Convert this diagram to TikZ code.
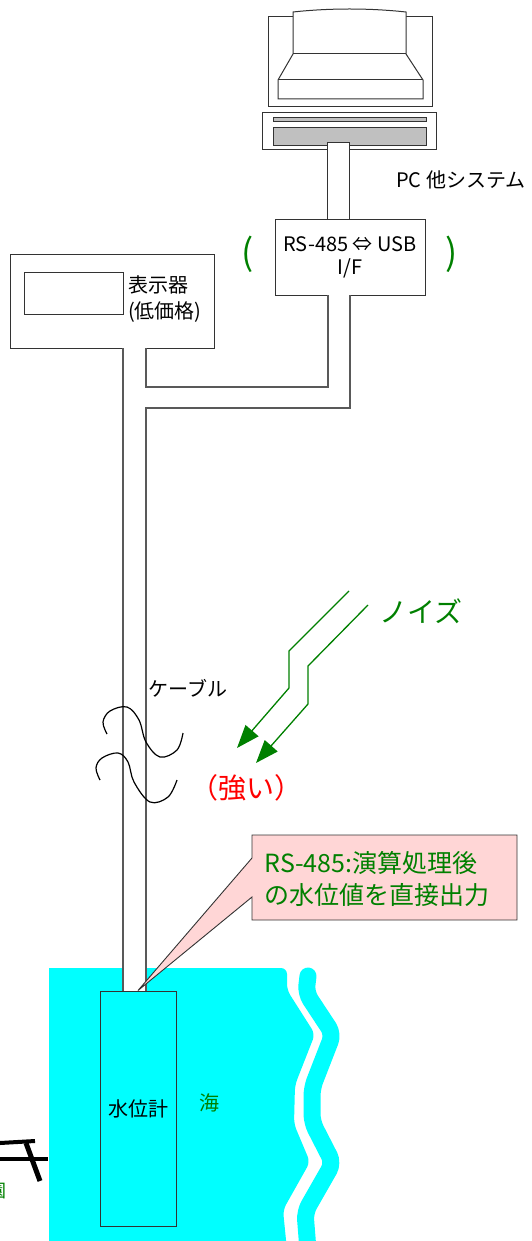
\documentclass[tikz,border=0pt]{standalone}
\usepackage{fontspec}
\setmainfont{Noto Sans CJK JP}
\usepackage{xcolor}
\usepackage{tikz}
\usetikzlibrary{positioning,arrows.meta}
\definecolor{SeaCyan}{RGB}{0,255,255}
\definecolor{NoiseGreen}{RGB}{0,128,0}
\definecolor{NotePink}{RGB}{255,214,214}
\definecolor{KeyGray}{RGB}{192,192,192}

\begin{document}
\begin{tikzpicture}[x=1pt,y=-1pt]
	\tikzset{
		ln/.style={draw=black!65, line width=1.1pt},
		bx/.style={draw=black!80, line width=1pt, fill=white, inner sep=0pt},
		t/.style={inner sep=0pt, font=\fontsize{20}{26}\selectfont},
		g/.style={text=NoiseGreen},
		nz/.style={draw=NoiseGreen, line width=1.3pt, -{Triangle[length=23pt,width=17pt]}}
	}
	\useasboundingbox (0,0) rectangle (531,1241);
	
	\fill[SeaCyan] (49,1241) -- (49,968) [rounded corners=6pt] -- (287,968) -- (287,990) -- (315,1034) -- (295,1085) -- (294,1124) -- (310,1162) -- (283,1210) -- (287,1250) [sharp corners] -- (49,1250) -- cycle;
	\draw[SeaCyan, line width=17pt, line cap=round, rounded corners=8pt] (308,976) -- (306,993) -- (333,1034) -- (312,1088) -- (312,1122) -- (333,1163) -- (305,1212) -- (308,1250);
	
	\node[bx, minimum width=164pt, minimum height=90pt] (mon) at (350,62) {};
	\draw[bx] (293,12) .. controls (330,8) and (369,8) .. (406,12) -- (406,54) -- (423,80) -- (423,99) -- (278,99) -- (278,80) -- (293,54) -- cycle;
	\draw[bx] (293,54) -- (406,54) (278,80) -- (423,80);
	\node[bx, minimum width=174pt, minimum height=37pt] (base) at (349,131.5) {};
	\draw[bx, fill=KeyGray] (273,118) rectangle (426,122);
	\draw[bx, fill=KeyGray] (273,128) rectangle (426,146);
	\draw[bx] (327,143) rectangle (349,220);
	\node[t, anchor=west] (pclabel) at (396,180) {PC 他システム};
	
	\node[bx, t, minimum width=150pt, minimum height=75pt, align=center, font=\fontsize{20}{23}\selectfont] (rsif) at (350,257.5) {RS-485 ⇔ USB\\I/F};
	\node[g, inner sep=0pt, font=\fontsize{36}{36}\selectfont] (lpar) at (248,254) {(};
	\node[g, inner sep=0pt, font=\fontsize{36}{36}\selectfont] (rpar) at (452,254) {)};
	
	\node[bx, minimum width=204pt, minimum height=94pt] (disp) at (112,301) {};
	\node[bx, minimum width=99pt, minimum height=42pt, anchor=north west] (scr) at (24,272) {};
	\node[t, align=left, anchor=west] (dlabel) at (128,299) {表示器\\(低価格)};
	
	\fill[white] (123,348) rectangle (146,991);
	\fill[white] (146,387) rectangle (350,408);
	\fill[white] (328,295) rectangle (350,387);
	\draw[ln] (123,348) -- (123,991);
	\draw[ln] (146,348) -- (146,387) -- (328,387) -- (328,295);
	\draw[ln] (146,991) -- (146,408) -- (350,408) -- (350,295);
	
	\node[bx, t, fill=SeaCyan, minimum width=76pt, minimum height=235pt] (gauge) at (138,1108.5) {水位計};
	\node[t, g] (sea) at (209,1103) {海};
	
	\node[t, anchor=west] (cablelabel) at (148,688) {ケーブル};
	\draw[line width=1.2pt] plot[smooth, tension=0.6] coordinates {(107,734) (103,722) (110,711) (127,707) (139,720) (146,742) (160,757) (177,750) (183,733)};
	\draw[line width=1.2pt] plot[smooth, tension=0.6] coordinates {(100,780) (96,768) (102,758) (118,753) (128,762) (134,782) (150,802) (168,797) (177,780)};
	
	\node[t, g, font=\fontsize{28}{28}\selectfont] (noise) at (421,611) {ノイズ};
	\coordinate (a1) at (349,591);
	\coordinate (a2) at (368,605);
	\coordinate (h1) at (237,748);
	\coordinate (h2) at (256,763);
	\draw[nz] (a1) -- (289,651) -- (289,688) -- (h1);
	\draw[nz] (a2) -- (308,666) -- (308,704) -- (h2);
	\node[t, text=red, font=\fontsize{28}{28}\selectfont] (strong) at (246,788) {（強い）};
	
	\filldraw[fill=NotePink, draw=black!80, line width=0.9pt] (252,835) -- (517,835) -- (517,920) -- (252,920) -- (252,897) -- (gauge.north) -- (252,858) -- cycle;
	\node[t, g, align=left, font=\fontsize{25}{32}\selectfont] (note) at (377,879) {RS-485:演算処理後\\の水位値を直接出力};
	
	\draw[line width=4pt] (0,1143) -- (35,1141);
	\draw[line width=3.5pt] (0,1159) -- (48,1159);
	\draw[line width=5pt] (26,1143) -- (40,1181);
	\node[g, inner sep=0pt, font=\fontsize{18}{18}\selectfont] (frag) at (-3,1191) {園};
\end{tikzpicture}
\end{document}
